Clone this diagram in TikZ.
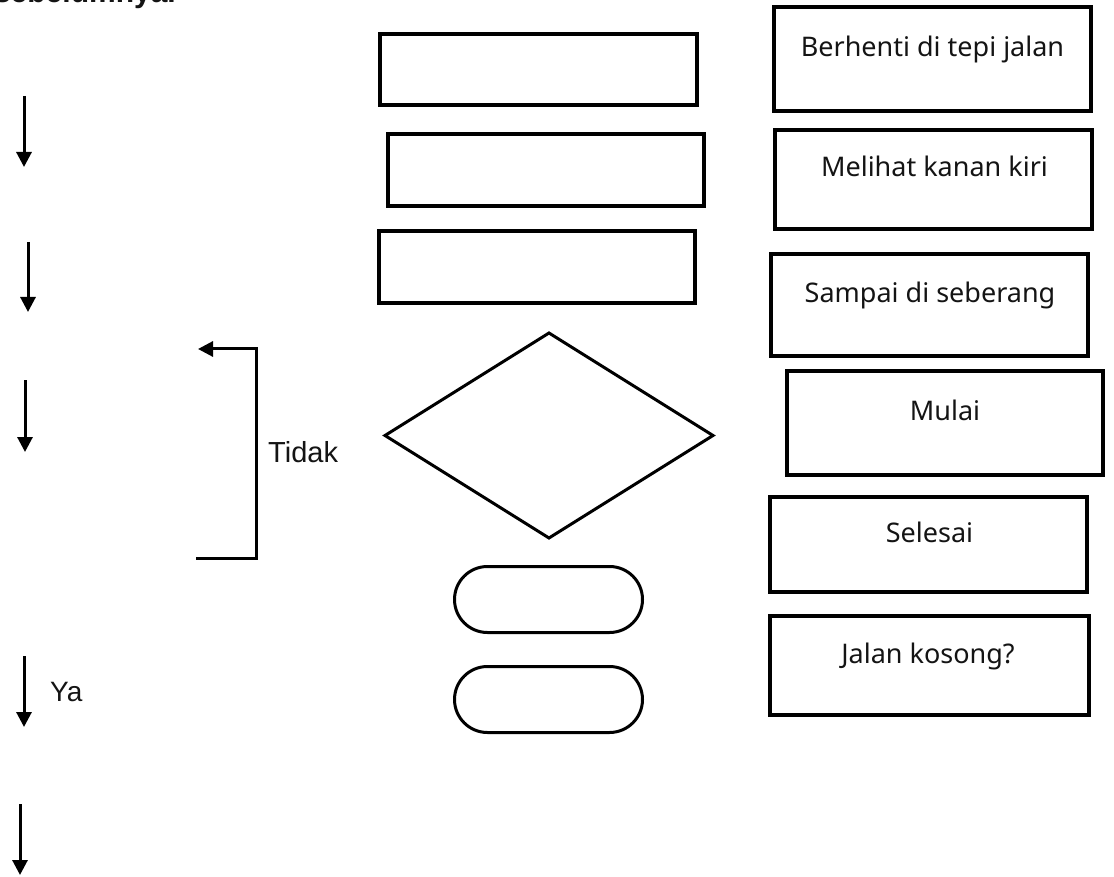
\documentclass[tikz,border=0pt]{standalone}
\usepackage{fontspec}
\setmainfont{Noto Sans}
\newfontfamily\arialfont{Liberation Sans}
\usetikzlibrary{arrows.meta,shapes.geometric}
\definecolor{txt}{HTML}{141414}
\tikzset{
  boxshape/.style={draw=black,line width=4pt,rectangle,inner sep=0pt,outer sep=0pt},
  thinshape/.style={draw=black,line width=3pt,inner sep=0pt,outer sep=0pt},
  boxlabel/.style={anchor=base,inner sep=0pt,text=txt,font=\fontsize{27}{29}\selectfont},
  sidelabel/.style={anchor=base west,inner sep=0pt,text=txt,font=\arialfont\fontsize{29}{31}\selectfont},
  downarrow/.style={line width=3pt,-{Triangle[width=15pt,length=15pt]}},
}
\begin{document}
\begin{tikzpicture}[x=1pt,y=-1pt]
\useasboundingbox (0,0) rectangle (1114,877);
\fill[white] (0,0) rectangle (1114,877);
\begin{scope}
\clip (0,0) rectangle (1114,877);
\node[anchor=base east,inner sep=0pt,text=txt,font=\arialfont\bfseries\fontsize{30}{32}\selectfont] (topline) at (176,3) {sebelumnya.};
\end{scope}

% middle column: empty shapes
\node[boxshape,minimum width=317pt,minimum height=71pt] (m1) at (538.5,69.5) {};
\node[boxshape,minimum width=316pt,minimum height=72pt] (m2) at (546,170) {};
\node[boxshape,minimum width=316pt,minimum height=72pt] (m3) at (537,267) {};
\node[thinshape,diamond,minimum width=328pt,minimum height=205pt] (dec) at (549,435.5) {};
\node[thinshape,rectangle,rounded corners=33pt,minimum width=188pt,minimum height=66pt] (r1) at (548.5,599.5) {};
\node[thinshape,rectangle,rounded corners=33pt,minimum width=188pt,minimum height=66pt] (r2) at (548.5,699.5) {};

% right column: labelled boxes
\node[boxshape,minimum width=317pt,minimum height=104pt] (b1) at (932.5,59) {};
\node[boxshape,minimum width=317pt,minimum height=99pt] (b2) at (933.5,179.5) {};
\node[boxshape,minimum width=317pt,minimum height=102pt] (b3) at (929.5,305) {};
\node[boxshape,minimum width=316pt,minimum height=104pt] (b4) at (945,423) {};
\node[boxshape,minimum width=317pt,minimum height=95pt] (b5) at (928.5,544.5) {};
\node[boxshape,minimum width=319pt,minimum height=99pt] (b6) at (929.5,665.5) {};
\node[boxlabel] (t1) at (932.5,57) {Berhenti di tepi jalan};
\node[boxlabel] (t2) at (934.5,177) {Melihat kanan kiri};
\node[boxlabel] (t3) at (930,303) {Sampai di seberang};
\node[boxlabel] (t4) at (945,420) {Mulai};
\node[boxlabel] (t5) at (929.5,542) {Selesai};
\node[boxlabel] (t6) at (928,663) {Jalan kosong?};

% left column arrows
\coordinate (a1s) at (24,96);  \coordinate (a1e) at (24,167);
\coordinate (a2s) at (28,242); \coordinate (a2e) at (28,312);
\coordinate (a3s) at (25,380); \coordinate (a3e) at (25,452);
\coordinate (a4s) at (24,656); \coordinate (a4e) at (24,727);
\coordinate (a5s) at (20,804); \coordinate (a5e) at (20,875);
\draw[downarrow] (a1s) -- (a1e);
\draw[downarrow] (a2s) -- (a2e);
\draw[downarrow] (a3s) -- (a3e);
\draw[downarrow] (a4s) -- (a4e);
\draw[downarrow] (a5s) -- (a5e);
\node[sidelabel,font=\arialfont\fontsize{28}{30}\selectfont] (ya) at (50,701) {Ya};

% bracket (Tidak)
\coordinate (brbot) at (196,558);
\coordinate (brbc) at (256,558);
\coordinate (brtc) at (256,349);
\coordinate (brtip) at (198,349);
\draw[line width=3pt,-{Triangle[width=15pt,length=15pt]}] (brbot) -- (brbc) -- (brtc) -- (brtip);
\node[sidelabel] (tidak) at (268,462) {Tidak};
\end{tikzpicture}
\end{document}
